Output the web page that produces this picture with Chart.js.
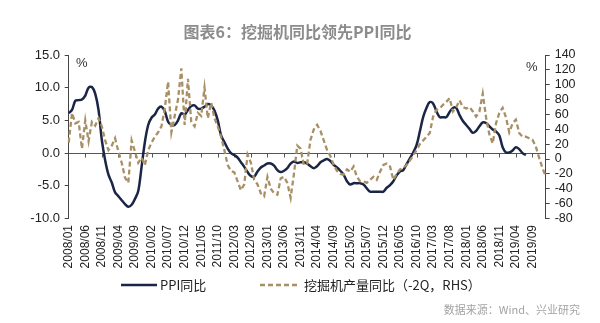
<!DOCTYPE html>
<html>
<head>
<meta charset="utf-8">
<script src="https://cdn.jsdelivr.net/npm/chart.js@4.4.1/dist/chart.umd.min.js"></script>
<style>
  html, body { margin: 0; padding: 0; background: #fff; }
</style>
</head>
<body>
<canvas id="myChart" width="600" height="323"></canvas>
<script>
// month labels 2008/01 .. 2020/01
const labels = [];
for (let y = 2008; y <= 2020; y++) {
    for (let m = 1; m <= 12; m++) {
        if (y === 2020 && m > 1) break;
        labels.push(y + '/' + (m < 10 ? '0' + m : m));
    }
}

// PPI yoy (%), 2008/01 - 2019/07
const ppi = [
    6.1, 6.6, 8.0, 8.1, 8.2, 8.8, 10.0, 10.1, 9.1, 6.6, 2.0, -1.1,
    -3.3, -4.5, -6.0, -6.6, -7.2, -7.8, -8.2, -7.9, -7.0, -5.8, -2.1, 1.7,
    4.3, 5.4, 5.9, 6.8, 7.1, 6.4, 4.8, 4.3, 4.3, 5.0, 6.1, 5.9,
    6.6, 7.2, 7.3, 6.8, 6.8, 7.1, 7.5, 7.3, 6.5, 5.0, 2.7, 1.7,
    0.7, 0.0, -0.3, -0.7, -1.4, -2.1, -2.9, -3.5, -3.6, -2.8, -2.2, -1.9,
    -1.6, -1.6, -1.9, -2.6, -2.9, -2.7, -2.3, -1.6, -1.3, -1.5, -1.4, -1.4,
    -1.6, -2.0, -2.3, -2.0, -1.4, -1.1, -0.9, -1.2, -1.8, -2.2, -2.7, -3.3,
    -4.3, -4.8, -4.6, -4.6, -4.6, -4.8, -5.4, -5.9, -5.9, -5.9, -5.9, -5.9,
    -5.3, -4.9, -4.3, -3.4, -2.8, -2.6, -1.7, -0.8, 0.1, 1.2, 3.3, 5.5,
    6.9, 7.8, 7.6, 6.4, 5.5, 5.5, 5.5, 6.3, 6.9, 6.9, 5.8, 4.9,
    4.3, 3.7, 3.1, 3.4, 4.1, 4.7, 4.6, 4.1, 3.6, 3.3, 2.7, 0.9,
    0.1, 0.1, 0.4, 0.9, 0.6, 0.0, -0.3
];

// excavator output yoy (%), shifted -2Q, RHS, 2008/01 - 2020/01
const excavator = [
    22, 62, 48, 50, 14, 52, 24, 50, 45, 55, 44, 25,
    12, 18, 28, 10, -5, -25, -32, 25, 10, -5, 2, -8,
    12, 22, 30, 36, 44, 68, 104, 36, 58, 80, 122, 46,
    108, 50, 44, 62, 58, 96, 55, 76, 55, 44, 30, 12,
    -8, -16, -18, -30, -42, -34, 6, -5, -28, -34, -46, -50,
    -24, -40, -46, -48, -26, -24, -32, -52, -20, 18, 14, -8,
    -6, 26, 40, 46, 38, 25, 12, 4, -8, -16, -20, -21,
    -14, -17, -10, -24, -30, -30, -32, -28, -24, -28, -17, -8,
    -6, -10, -28, -20, -14, -12, -8, -2, 5, 12, 20, 25,
    30, 35, 57, 66, 68, 73, 77, 82, 64, 70, 79, 70,
    68, 70, 64, 57, 64, 88, 56, 33, 21, 48, 62, 69,
    56, 36, 48, 53, 35, 30, 30, 28, 26, 17, 2, -12,
    -23
];

const leftTicks = [-10, 15, 5];    // min, max, step
const rightTicks = [-80, 140, 20];

const navy = '#1b2545';
const tan = '#a89066';
const cjk = '"Noto Sans CJK SC", sans-serif';
const latin = '"Liberation Sans", Arial, sans-serif';

// zero line with month tick marks, "%" units and the legend row
const axisExtras = {
    id: 'axisExtras',
    beforeDatasetsDraw(chart) {
        const {ctx, chartArea, scales} = chart;
        const y0 = Math.round(scales.y.getPixelForValue(0)) + 0.5;
        ctx.save();
        ctx.strokeStyle = '#555';
        ctx.lineWidth = 1;
        ctx.beginPath();
        ctx.moveTo(chartArea.left, y0);
        ctx.lineTo(chartArea.right, y0);
        for (let i = 5; i < labels.length; i += 5) {
            const x = Math.round(scales.x.getPixelForValue(i)) + 0.5;
            ctx.moveTo(x, y0);
            ctx.lineTo(x, y0 + 4);
        }
        ctx.stroke();
        ctx.fillStyle = '#333';
        ctx.font = '13px ' + latin;
        ctx.textBaseline = 'middle';
        ctx.textAlign = 'center';
        ctx.fillText('%', chartArea.left + 13, chartArea.top + 8);
        ctx.fillText('%', chartArea.right - 14, chartArea.top + 12);
        ctx.restore();
    },
    afterDraw(chart) {
        const ctx = chart.ctx;
        const ds = chart.data.datasets;
        const ly = 285;
        const items = [[121, 157, 160], [260, 300, 304]]; // line start, line end, text x
        ctx.save();
        ctx.font = '13px ' + cjk;
        ctx.textBaseline = 'middle';
        ctx.textAlign = 'left';
        items.forEach((it, k) => {
            ctx.beginPath();
            ctx.strokeStyle = ds[k].borderColor;
            ctx.lineWidth = ds[k].borderWidth;
            ctx.setLineDash(ds[k].borderDash || []);
            ctx.moveTo(it[0], ly);
            ctx.lineTo(it[1], ly);
            ctx.stroke();
            ctx.fillStyle = '#222';
            ctx.fillText(ds[k].label, it[2], ly);
        });
        ctx.restore();
    }
};

const ctx = document.getElementById('myChart').getContext('2d');

new Chart(ctx, {
    type: 'line',
    data: {
        labels: labels,
        datasets: [{
            label: 'PPI同比',
            data: ppi,
            yAxisID: 'y',
            borderColor: navy,
            backgroundColor: navy,
            borderWidth: 2.5,
            pointRadius: 0,
            tension: 0.35,
            order: 2
        },
        {
            label: '挖掘机产量同比（-2Q，RHS）',
            data: excavator,
            yAxisID: 'y1',
            borderColor: tan,
            backgroundColor: tan,
            borderWidth: 2.3,
            borderDash: [5, 3],
            pointRadius: 0,
            tension: 0,
            order: 1
        }]
    },
    options: {
        responsive: false,
        animation: false,
        layout: { padding: { left: 15, right: 20, top: 0, bottom: 0 } },
        scales: {
            x: {
                offset: false,
                grid: { display: false, drawTicks: false },
                border: { display: false },
                ticks: {
                    autoSkip: false,
                    minRotation: 90,
                    maxRotation: 90,
                    padding: 6.5,
                    color: '#222',
                    font: { size: 12, family: latin },
                    callback: function (val, i) {
                        return i % 5 === 0 ? this.getLabelForValue(val) : null;
                    }
                },
                afterFit: function (s) { s.height = 52; }
            },
            y: {
                position: 'left',
                min: leftTicks[0],
                max: leftTicks[1],
                grid: { drawOnChartArea: false, drawTicks: true, tickLength: 4, color: '#444' },
                border: { color: '#444' },
                ticks: {
                    stepSize: leftTicks[2],
                    autoSkip: false,
                    padding: 4.7,
                    color: '#222',
                    font: { size: 13, family: latin },
                    callback: v => v.toFixed(1)
                },
                afterFit: function (s) { s.width = 53.7; }
            },
            y1: {
                position: 'right',
                min: rightTicks[0],
                max: rightTicks[1],
                grid: { drawOnChartArea: false, drawTicks: true, tickLength: 4, color: '#444' },
                border: { color: '#444' },
                ticks: {
                    stepSize: rightTicks[2],
                    autoSkip: false,
                    padding: 5,
                    color: '#222',
                    font: { size: 12.5, family: latin }
                },
                afterFit: function (s) { s.width = 34.3; }
            }
        },
        plugins: {
            title: {
                display: true,
                text: '图表6：挖掘机同比领先PPI同比',
                color: '#8c8c8c',
                font: { size: 16, family: cjk, weight: 'bold' },
                padding: { top: 22.4, bottom: 13.4 }
            },
            subtitle: {
                display: true,
                position: 'bottom',
                align: 'end',
                text: '数据来源：Wind、兴业研究',
                color: '#a3a3a3',
                font: { size: 11, family: cjk },
                padding: { top: 32.9, bottom: 6.4 }
            },
            legend: { display: false },
            tooltip: { enabled: false }
        }
    },
    plugins: [axisExtras]
});
</script>
</body>
</html>
